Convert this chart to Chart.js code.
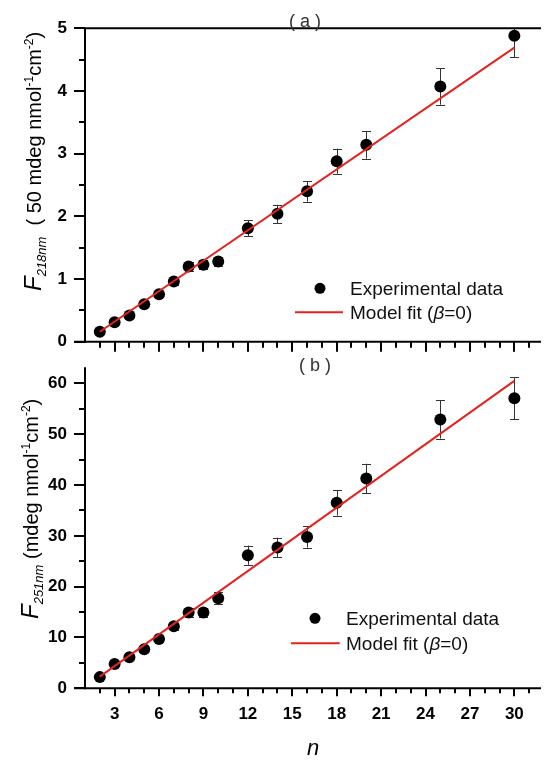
<!DOCTYPE html>
<html><head><meta charset="utf-8">
<script src="https://cdn.jsdelivr.net/npm/chart.js@4.4.1/dist/chart.umd.min.js"></script>
<style>
html,body{margin:0;padding:0;background:#fff;}
#wrap{position:relative;width:547px;height:760px;overflow:hidden;background:#fff;}
canvas{position:absolute;left:0;}
#ca{top:0;}
#cb{top:340px;}
</style></head><body>
<div id="wrap">
<canvas id="ca" width="547" height="370"></canvas>
<canvas id="cb" width="547" height="420"></canvas>
</div>
<script>
// ---------- data ----------
const nValues = [2,3,4,5,6,7,8,9,10,12,14,16,18,20,25,30];
const f218 = [0.16,0.31,0.42,0.60,0.76,0.96,1.20,1.23,1.28,1.81,2.04,2.40,2.88,3.14,4.07,4.88];
const f218Err = [0.03,0.03,0.03,0.04,0.04,0.05,0.07,0.07,0.07,0.125,0.145,0.165,0.20,0.22,0.29,0.34];
const f251 = [2.2,4.8,6.1,7.7,9.7,12.2,14.9,14.9,17.7,26.2,27.7,29.8,36.5,41.3,52.9,57.1];
const f251Err = [0.4,0.4,0.4,0.5,0.5,0.7,0.95,0.9,1.2,1.9,1.95,2.1,2.5,2.9,3.75,4.1];
const fitN = [2,30];
const fitA = [0.16,4.69];
const fitB = [2.3,60.5];
const xTickLabels = [3,6,9,12,15,18,21,24,27,30];
const xMinorTicks = [2,3,4,5,6,7,8,9,10,11,12,13,14,15,16,17,18,19,20,21,22,23,24,25,26,27,28,29,30,31];
const yTicksA = [0,1,2,3,4,5];
const yMinorA = [0.5,1.5,2.5,3.5,4.5];
const yTicksB = [0,10,20,30,40,50,60];
const yMinorB = [5,15,25,35,45,55];
const legendLabels = ['Experimental data','Model fit ('];

const FONT = "'Liberation Sans', Arial, sans-serif";
Chart.defaults.font.family = FONT;
const RED = '#e3231f';
const DOT_R = 6;

function pts(xs, ys){ return xs.map((x,i)=>({x:x, y:ys[i]})); }

function drawRich(ctx, x, y, parts){
  ctx.save();
  ctx.translate(x, y);
  ctx.rotate(-Math.PI/2);
  ctx.textBaseline = 'alphabetic';
  ctx.textAlign = 'left';
  ctx.fillStyle = '#000';
  let cx = 0;
  for (const p of parts){
    ctx.font = p.font;
    ctx.fillText(p.t, cx, p.dy || 0);
    cx += ctx.measureText(p.t).width + (p.gap||0);
  }
  ctx.restore();
}

function errPlugin(vals, errs){
  return {
    id:'errbars',
    beforeDatasetsDraw(chart){
      const {ctx, chartArea:a, scales:{x, y}} = chart;
      ctx.save();
      ctx.beginPath(); ctx.rect(a.left, a.top, a.right-a.left, a.bottom-a.top); ctx.clip();
      ctx.strokeStyle = '#333'; ctx.lineWidth = 1;
      nValues.forEach((n,i)=>{
        const px = Math.round(x.getPixelForValue(n))+0.5;
        const t = y.getPixelForValue(vals[i]+errs[i]);
        const b = y.getPixelForValue(vals[i]-errs[i]);
        ctx.beginPath();
        ctx.moveTo(px, t); ctx.lineTo(px, b);
        ctx.moveTo(px-4.5, Math.round(t)+0.5); ctx.lineTo(px+4.5, Math.round(t)+0.5);
        ctx.moveTo(px-4.5, Math.round(b)+0.5); ctx.lineTo(px+4.5, Math.round(b)+0.5);
        ctx.stroke();
      });
      ctx.restore();
    }
  };
}

function tickLine(ctx, x1,y1,x2,y2,w){
  ctx.lineWidth = w; ctx.beginPath(); ctx.moveTo(x1,y1); ctx.lineTo(x2,y2); ctx.stroke();
}

function legendDraw(ctx, dotX, dotY, txtX, t1Y, lineX1, lineX2, lineY, t2Y){
  ctx.save();
  ctx.fillStyle = '#000';
  ctx.beginPath(); ctx.arc(dotX, dotY, 5.5, 0, Math.PI*2); ctx.fill();
  ctx.strokeStyle = RED; ctx.lineWidth = 2;
  ctx.beginPath(); ctx.moveTo(lineX1, lineY); ctx.lineTo(lineX2, lineY); ctx.stroke();
  ctx.fillStyle = '#111';
  ctx.textBaseline = 'alphabetic'; ctx.textAlign = 'left';
  ctx.font = '19px ' + FONT;
  ctx.fillText(legendLabels[0], txtX, t1Y);
  let cx = txtX;
  ctx.fillText(legendLabels[1], cx, t2Y); cx += ctx.measureText(legendLabels[1]).width;
  ctx.font = 'italic 19px ' + FONT;
  ctx.fillText('\u03B2', cx, t2Y); cx += ctx.measureText('\u03B2').width;
  ctx.font = '19px ' + FONT;
  ctx.fillText('=0)', cx, t2Y);
  ctx.restore();
}

function panelLabel(ctx, txt, x, y){
  ctx.save();
  ctx.font = '18px ' + FONT;
  try { ctx.letterSpacing = '5px'; } catch(e){}
  ctx.fillStyle = '#333';
  ctx.textAlign = 'center'; ctx.textBaseline = 'middle';
  ctx.fillText(txt, x + 2.5, y);
  ctx.restore();
}

const xScale = (display) => ({
  type:'linear', min:1, max:31.8, display:display,
  grid:{display:false, drawTicks:false},
  border:{display:false}
});

// ---------- top chart (a) ----------
const topDeco = {
  id:'topDeco',
  afterDraw(chart){
    const {ctx, chartArea:a, scales:{x, y}} = chart;
    ctx.save();
    ctx.strokeStyle = '#000';
    tickLine(ctx, a.left, a.top, a.left, a.bottom+1, 2);
    tickLine(ctx, a.left-1, a.top, a.right, a.top, 2);
    tickLine(ctx, a.left-11, a.bottom, a.right, a.bottom, 2);
    yTicksA.forEach(v=>{ const py = Math.round(y.getPixelForValue(v)); tickLine(ctx, a.left-11, py, a.left, py, 2); });
    yMinorA.forEach(v=>{ const py = Math.round(y.getPixelForValue(v)); tickLine(ctx, a.left-6, py, a.left, py, 2); });
    xMinorTicks.forEach(v=>{
      const px = Math.round(x.getPixelForValue(v));
      const major = xTickLabels.includes(v);
      tickLine(ctx, px, a.bottom, px, a.bottom + (major?10:6), 2);
    });
    ctx.restore();
    legendDraw(ctx, 320, 288.3, 350, 295, 295, 343, 312.3, 319);
    panelLabel(ctx, '(a)', 305, 22);
    drawRich(ctx, 41, 291, [
      {t:'F', font:'italic 24px '+FONT},
      {t:'218nm', font:'italic 13px '+FONT, dy:5},
      {t:'  ( 50 mdeg nmol', font:'20px '+FONT},
      {t:'-1', font:'12px '+FONT, dy:-8},
      {t:'cm', font:'20px '+FONT},
      {t:'-2', font:'12px '+FONT, dy:-8},
      {t:')', font:'20px '+FONT}
    ]);
  }
};

new Chart(document.getElementById('ca'), {
  type:'scatter',
  data:{ datasets:[
    { label:'Model fit (\u03B2=0)', data:pts(fitN, fitA), showLine:true, borderColor:RED, borderWidth:2, pointRadius:0, order:0 },
    { label:'Experimental data', data:pts(nValues, f218), pointRadius:DOT_R, pointHoverRadius:DOT_R, backgroundColor:'#000', borderWidth:0, order:1 }
  ]},
  options:{
    responsive:false, maintainAspectRatio:false, animation:false, devicePixelRatio:1,
    layout:{ padding:{left:0, right:0, top:19.3, bottom:16.5} },
    plugins:{ legend:{display:false}, tooltip:{enabled:false} },
    scales:{
      x: xScale(false),
      y: { type:'linear', min:0, max:5,
        afterBuildTicks(s){ s.ticks = yTicksA.map(v=>({value:v})); },
        afterFit(s){ s.width = 85; },
        ticks:{ font:{size:17, weight:'bold'}, color:'#000', padding:18 },
        grid:{display:false, drawTicks:false}, border:{display:false} }
    }
  },
  plugins:[errPlugin(f218, f218Err), topDeco]
});

// ---------- bottom chart (b) ----------
const botDeco = {
  id:'botDeco',
  afterDraw(chart){
    const {ctx, chartArea:a, scales:{x, y}} = chart;
    ctx.save();
    ctx.strokeStyle = '#000';
    tickLine(ctx, a.left, a.top-1, a.left, a.bottom+1, 2);
    tickLine(ctx, a.left-11, a.bottom, a.right, a.bottom, 2);
    yTicksB.forEach(v=>{ const py = Math.round(y.getPixelForValue(v)); tickLine(ctx, a.left-11, py, a.left, py, 2); });
    yMinorB.forEach(v=>{ const py = Math.round(y.getPixelForValue(v)); tickLine(ctx, a.left-6, py, a.left, py, 2); });
    xMinorTicks.forEach(v=>{
      const px = Math.round(x.getPixelForValue(v));
      const major = xTickLabels.includes(v);
      tickLine(ctx, px, a.bottom, px, a.bottom + (major?8:5), 2);
    });
    ctx.restore();
    legendDraw(ctx, 315, 278.3, 346, 285, 291, 339.7, 303.3, 310);
    panelLabel(ctx, '(b)', 315, 26);
    drawRich(ctx, 38, 279, [
      {t:'F', font:'italic 24px '+FONT},
      {t:'251nm', font:'italic 13px '+FONT, dy:5},
      {t:' (mdeg nmol', font:'20px '+FONT},
      {t:'-1', font:'12px '+FONT, dy:-8},
      {t:'cm', font:'20px '+FONT},
      {t:'-2', font:'12px '+FONT, dy:-8},
      {t:')', font:'20px '+FONT}
    ]);
  }
};

new Chart(document.getElementById('cb'), {
  type:'scatter',
  data:{ datasets:[
    { label:'Model fit (\u03B2=0)', data:pts(fitN, fitB), showLine:true, borderColor:RED, borderWidth:2, pointRadius:0, order:0 },
    { label:'Experimental data', data:pts(nValues, f251), pointRadius:DOT_R, pointHoverRadius:DOT_R, backgroundColor:'#000', borderWidth:0, order:1 }
  ]},
  options:{
    responsive:false, maintainAspectRatio:false, animation:false, devicePixelRatio:1,
    layout:{ padding:{left:0, right:0, top:13.5, bottom:0} },
    plugins:{ legend:{display:false}, tooltip:{enabled:false} },
    scales:{
      x: Object.assign(xScale(true), {
        position:'bottom',
        afterBuildTicks(s){ s.ticks = xTickLabels.map(v=>({value:v})); },
        afterFit(s){ s.height = 71.7; },
        ticks:{ font:{size:17, weight:'bold'}, color:'#000', padding:16, maxRotation:0, autoSkip:false },
        title:{ display:true, text:'n', font:{size:22, style:'italic', lineHeight:1}, color:'#000', padding:{top:0,bottom:0} }
      }),
      y: { type:'linear', min:0, max:63,
        afterBuildTicks(s){ s.ticks = yTicksB.map(v=>({value:v})); },
        afterFit(s){ s.width = 85; },
        ticks:{ font:{size:17, weight:'bold'}, color:'#000', padding:18 },
        grid:{display:false, drawTicks:false}, border:{display:false} }
    }
  },
  plugins:[errPlugin(f251, f251Err), botDeco]
});
</script>
</body></html>
